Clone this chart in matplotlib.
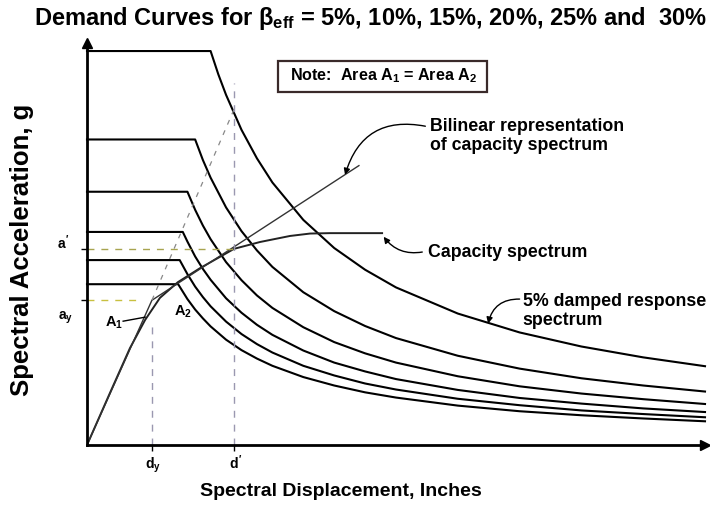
import matplotlib
matplotlib.use("Agg")
from matplotlib import pyplot as plt
from matplotlib.patches import Rectangle

plt.rcParams['font.family'] = ['Liberation Sans', 'DejaVu Sans']
plt.rcParams['font.weight'] = 'bold'
plt.rcParams['mathtext.fontset'] = 'custom'
plt.rcParams['mathtext.rm'] = 'Liberation Sans:bold'
plt.rcParams['mathtext.it'] = 'Liberation Sans:bold'
plt.rcParams['mathtext.bf'] = 'Liberation Sans:bold'

# demand spectra (Sd in inches, Sa in g), one per effective damping
damping = ["5%", "10%", "15%", "20%", "25%", "30%"]
sd_5 = [0, 4.0, 4.25, 4.5, 5, 5.5, 6, 7, 8, 9, 10, 12, 14, 16, 18, 20]
sa_5 = [0.98, 0.98, 0.922, 0.871, 0.784, 0.713, 0.653, 0.560, 0.490, 0.436,
        0.392, 0.327, 0.280, 0.245, 0.218, 0.196]
sd_10 = [0, 3.5, 3.75, 4, 4.5, 5, 5.5, 6, 7, 8, 9, 10, 12, 14, 16, 18, 20]
sa_10 = [0.76, 0.76, 0.709, 0.665, 0.591, 0.532, 0.484, 0.443, 0.380, 0.333,
         0.296, 0.266, 0.222, 0.190, 0.166, 0.148, 0.133]
sd_15 = [0, 3.25, 3.5, 3.75, 4, 4.5, 5, 5.5, 6, 7, 8, 9, 10, 12, 14, 16, 18, 20]
sa_15 = [0.63, 0.63, 0.585, 0.546, 0.512, 0.455, 0.410, 0.372, 0.341, 0.293,
         0.256, 0.228, 0.205, 0.171, 0.146, 0.128, 0.114, 0.102]
sd_20 = [0, 3.1, 3.25, 3.5, 3.75, 4, 4.5, 5, 5.5, 6, 7, 8, 9, 10, 12, 14, 16, 18, 20]
sa_20 = [0.53, 0.53, 0.506, 0.469, 0.438, 0.411, 0.365, 0.329, 0.299, 0.274,
         0.235, 0.205, 0.183, 0.164, 0.137, 0.117, 0.103, 0.091, 0.082]
sd_25 = [0, 3.0, 3.25, 3.5, 3.75, 4, 4.5, 5, 5.5, 6, 7, 8, 9, 10, 12, 14, 16, 18, 20]
sa_25 = [0.46, 0.46, 0.425, 0.394, 0.368, 0.345, 0.307, 0.276, 0.251, 0.230,
         0.197, 0.173, 0.153, 0.138, 0.115, 0.099, 0.086, 0.077, 0.069]
sd_30 = [0, 2.95, 3.25, 3.5, 3.75, 4, 4.5, 5, 5.5, 6, 7, 8, 9, 10, 12, 14, 16, 18, 20]
sa_30 = [0.40, 0.40, 0.363, 0.337, 0.315, 0.295, 0.262, 0.236, 0.215, 0.197,
         0.169, 0.148, 0.131, 0.118, 0.098, 0.084, 0.074, 0.066, 0.059]

# capacity spectrum
cap_sd = [0, 0.74, 1.39, 1.88, 2.36, 2.94, 3.66, 4.76, 5.60, 6.57, 7.22, 7.86, 9.55]
cap_sa = [0, 0.129, 0.241, 0.311, 0.366, 0.405, 0.440, 0.488, 0.505, 0.520,
          0.526, 0.527, 0.527]

# bilinear representation
bil_sd = [0, 2.1, 8.8]
bil_sa = [0, 0.36, 0.695]
elastic_sd = [2.1, 4.82]
elastic_sa = [0.36, 0.846]

dy, ay = 2.1, 0.36
dp, ap = 4.76, 0.488

W, H = 710, 525
fig = plt.figure(figsize=(W / 100, H / 100), dpi=100)
ax = fig.add_axes([87 / W, 80 / H, 618 / W, 402 / H])
ax.set_xlim(0, 20)
ax.set_ylim(0, 1.0)

for s in ["top", "right"]:
    ax.spines[s].set_visible(False)
for s in ["left", "bottom"]:
    ax.spines[s].set_linewidth(2)
ax.plot(20, 0, ">k", ms=7, clip_on=False)
ax.plot(0, 1.0, "^k", ms=7, clip_on=False)

ax.set_xticks([dy, dp])
ax.set_xticklabels([])
ax.set_yticks([ay, ap])
ax.set_yticklabels([])
ax.tick_params(length=4, width=1)

demand = [(sd_5, sa_5), (sd_10, sa_10), (sd_15, sa_15),
          (sd_20, sa_20), (sd_25, sa_25), (sd_30, sa_30)]
for sd, sa in demand:
    ax.plot(sd, sa, color="black", lw=1.5, clip_on=False)

ax.plot(cap_sd, cap_sa, color="#222222", lw=1.4)
ax.plot(bil_sd, bil_sa, color="#333333", lw=1.0)
ax.plot(elastic_sd, elastic_sa, color="#888888", lw=0.9, ls=(0, (4, 5)))

# reference lines for yield and performance point
ax.plot([0, dp], [ap, ap], color="#a8a450", lw=1, ls=(0, (5, 5)))
ax.plot([0, 1.72], [ay, ay], color="#c8c040", lw=1, ls=(0, (5, 5)))
ax.plot([dy, dy], [0, 0.31], color="#9a98b0", lw=1, ls=(0, (5, 5)))
ax.plot([dp, dp], [0, 0.90], color="#9a98b0", lw=1, ls=(0, (5, 5)))

ax.text(-0.78, 0.502, r"$a^{\prime}$", fontsize=10, ha="center", va="center", clip_on=False)
ax.text(-0.71, 0.316, "$a_y$", fontsize=10, ha="center", va="center", clip_on=False)
ax.text(2.14, -0.05, "$d_y$", fontsize=10, ha="center", va="center", clip_on=False)
ax.text(4.82, -0.045, r"$d^{\prime}$", fontsize=10, ha="center", va="center", clip_on=False)

ax.text(0.87, 0.303, "$A_1$", fontsize=10.5, ha="center", va="center")
ax.plot([1.17, 1.88], [0.308, 0.318], color="black", lw=1)
ax.text(3.1, 0.331, "$A_2$", fontsize=10.5, ha="center", va="center")

arrow = dict(arrowstyle="-|>", color="black", lw=1,
             shrinkA=0, shrinkB=0, mutation_scale=9)

ax.text(11.1, 0.769, "Bilinear representation\nof capacity spectrum",
        fontsize=12.8, ha="left", va="center", linespacing=1.2)
ax.annotate("", xy=(8.35, 0.672), xytext=(10.95, 0.793),
            arrowprops=dict(arrow, connectionstyle="arc3,rad=0.45"))

ax.text(11.04, 0.48, "Capacity spectrum", fontsize=12.8, ha="left", va="center")
ax.annotate("", xy=(9.6, 0.518), xytext=(10.85, 0.48),
            arrowprops=dict(arrow, connectionstyle="arc3,rad=-0.3"))

ax.text(14.1, 0.333, "5% damped response\nspectrum",
        fontsize=12.8, ha="left", va="center", linespacing=1.2)
ax.annotate("", xy=(12.98, 0.302), xytext=(14.0, 0.363),
            arrowprops=dict(arrow, connectionstyle="arc3,rad=0.4"))

# note box
fig.add_artist(Rectangle((278 / W, 1 - 92 / H), 209 / W, 31 / H,
                         transform=fig.transFigure, fill=False,
                         ec="#3a2a2a", lw=1.6))
fig.text(290 / W, 1 - 76 / H, "Note:  Area $A_1$ = Area $A_2$",
         fontsize=11.6, ha="left", va="center")

fig.text(370 / W, 1 - 18 / H,
         r"Demand Curves for $\beta_{eff}$ = 5%, 10%, 15%, 20%, 25% and  30%",
         fontsize=17, ha="center", va="center")
fig.text(341 / W, 1 - 492 / H, "Spectral Displacement, Inches",
         fontsize=14, ha="center", va="center")
fig.text(22 / W, 1 - 250 / H, "Spectral Acceleration, g",
         fontsize=18.5, ha="center", va="center", rotation=90)

fig.savefig("out.png", dpi=100)
